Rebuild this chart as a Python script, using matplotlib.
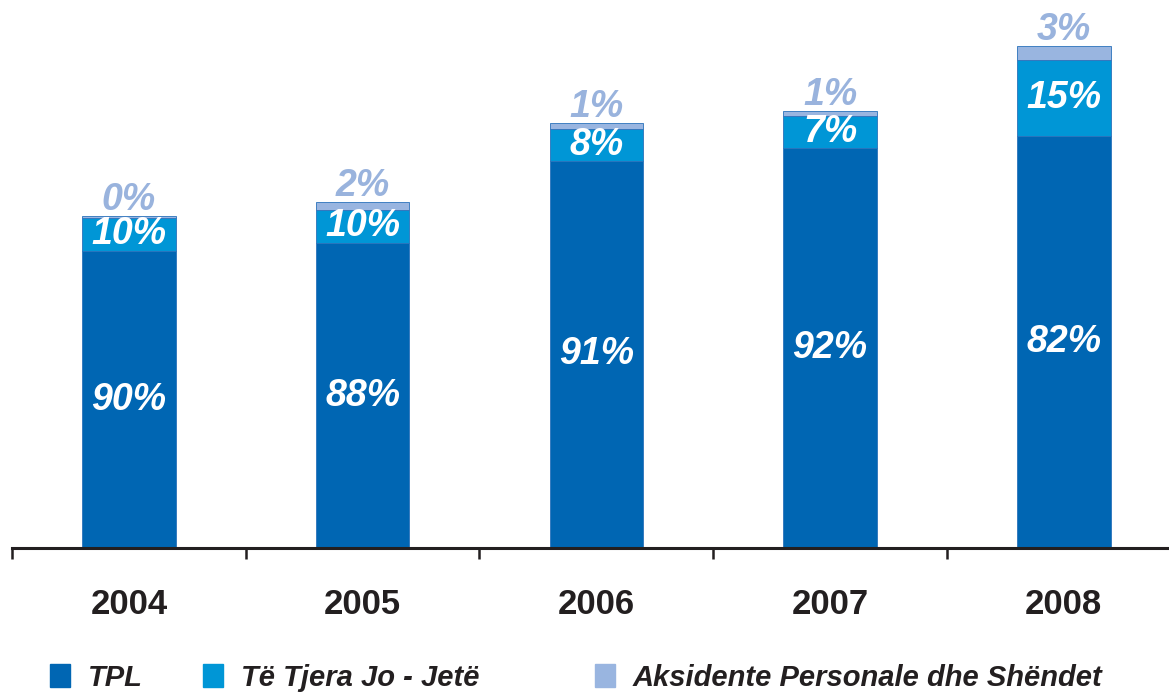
import matplotlib
matplotlib.use("Agg")
import numpy as np
import matplotlib.pyplot as plt
from matplotlib.patches import Rectangle

years = ["2004", "2005", "2006", "2007", "2008"]
series_names = ["TPL", "Të Tjera Jo - Jetë", "Aksidente Personale dhe Shëndet"]
# bar segment heights (relative units)
tpl = [297, 305, 387, 400, 412]
other = [33, 33, 32, 32, 76]
aks = [2, 8, 6, 5, 14]
tpl_lbl = ["90%", "88%", "91%", "92%", "82%"]
other_lbl = ["10%", "10%", "8%", "7%", "15%"]
aks_lbl = ["0%", "2%", "1%", "1%", "3%"]

colors = ["#0066b3", "#0096d6", "#99b5e0"]
label_colors = ["white", "white", "#99b3dd"]

plt.rcParams["font.family"] = ["Liberation Sans", "DejaVu Sans"]

fig = plt.figure(figsize=(11.69, 6.93), dpi=100)
ax = fig.add_axes([12 / 1169, 145 / 693, 1 - 12 / 1169, 548 / 693])

x = np.arange(len(years))
w = 0.4
tpl = np.array(tpl)
other = np.array(other)
aks = np.array(aks)

ax.bar(x, tpl, w, color=colors[0], edgecolor="#2a72bb", linewidth=0.6)
ax.bar(x, other, w, bottom=tpl, color=colors[1], edgecolor="#2a72bb", linewidth=0.6)
ax.bar(x, aks, w, bottom=tpl + other, color=colors[2], edgecolor="#2a72bb", linewidth=0.6)

lbl_kw = dict(ha="center", fontsize=27, fontweight="bold", fontstyle="italic")
for i in range(len(years)):
    ax.text(x[i], tpl[i] / 2, tpl_lbl[i], va="center", color=label_colors[0], **lbl_kw)
    ax.text(x[i], tpl[i] + other[i] / 2, other_lbl[i], va="center",
            color=label_colors[1], **lbl_kw)
    ax.annotate(aks_lbl[i], (x[i], tpl[i] + other[i] + aks[i]), xytext=(0, 4),
                textcoords="offset points", va="baseline", color=label_colors[2],
                **lbl_kw)

ax.set_xlim(-0.5, 4.45)
ax.set_ylim(0, 548)
for s in ["top", "right", "left"]:
    ax.spines[s].set_visible(False)
ax.spines["bottom"].set_linewidth(2.2)
ax.spines["bottom"].set_color("#231f20")
ax.set_yticks([])
ax.set_xticks(x)
ax.set_xticklabels(years, fontsize=25, fontweight="bold", color="#231f20")
ax.tick_params(axis="x", which="major", length=0, pad=29)
ax.set_xticks(np.arange(-0.5, 4.0, 1.0), minor=True)
ax.tick_params(axis="x", which="minor", length=8, width=1.8, color="#231f20",
               direction="out")

# legend row
leg_x = [50, 203, 595]
for xi, name, c in zip(leg_x, series_names, colors):
    fig.patches.append(Rectangle((xi / 1169, 6 / 693), 20 / 1169, 23 / 693,
                                 transform=fig.transFigure, color=c))
    fig.text((xi + 38) / 1169, 15 / 693, name, fontsize=21, fontweight="bold",
             fontstyle="italic", color="#231f20", va="center")

fig.savefig("out.png", dpi=100)
